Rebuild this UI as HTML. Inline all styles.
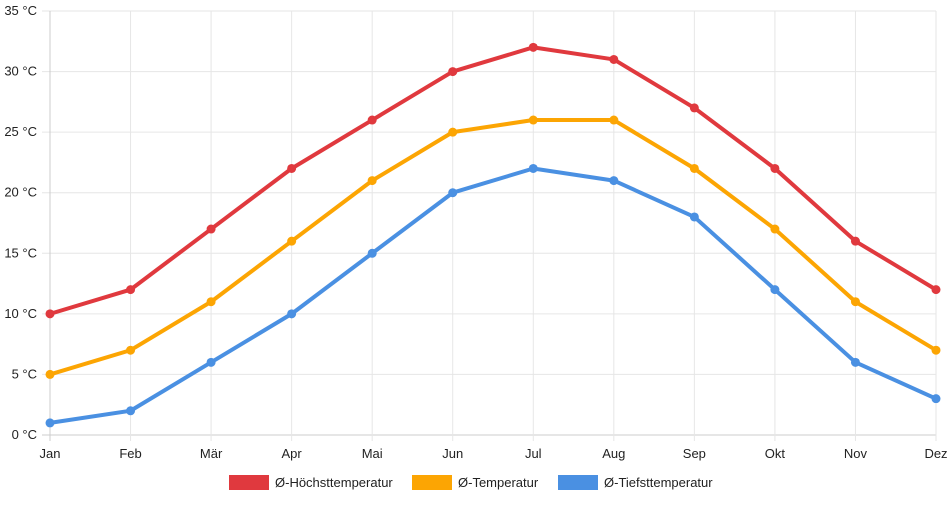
<!DOCTYPE html>
<html><head><meta charset="utf-8"><style>
body{margin:0;background:#fff;font-family:"Liberation Sans",sans-serif;}
svg text{font-family:"Liberation Sans",sans-serif;font-size:13px;fill:#222;}
</style></head><body>
<svg id="c" width="952" height="500"></svg>
<script>
const months=["Jan","Feb","Mär","Apr","Mai","Jun","Jul","Aug","Sep","Okt","Nov","Dez"];
const highTemps=[10,12,17,22,26,30,32,31,27,22,16,12];
const meanTemps=[5,7,11,16,21,25,26,26,22,17,11,7];
const lowTemps=[1,2,6,10,15,20,22,21,18,12,6,3];
const yTicks=[0,5,10,15,20,25,30,35];
const seriesNames=["Ø-Höchsttemperatur","Ø-Temperatur","Ø-Tiefsttemperatur"];
const seriesColors=["#e0393e","#fca503","#4a90e2"];

const svg=document.getElementById('c');
const NS="http://www.w3.org/2000/svg";
const x0=50,x1=936,yBase=435,yTop=11,yMax=35;
const xs=i=>x0+i*(x1-x0)/(months.length-1);
const ys=v=>yBase-v*(yBase-yTop)/yMax;
function mk(t,a){const e=document.createElementNS(NS,t);for(const k in a)e.setAttribute(k,a[k]);svg.appendChild(e);return e;}

yTicks.forEach(v=>{
  const l=mk('line',{x1:x0-8,x2:x1,y1:ys(v),y2:ys(v),stroke:v===0?'#ccc':'#e6e6e6','stroke-width':1});
  
  
  const t=mk('text',{x:37,y:ys(v)+4,'text-anchor':'end'});
  t.textContent=v+' °C';
  
  
});
months.forEach((m,i)=>{
  const l=mk('line',{x1:xs(i),x2:xs(i),y1:yTop,y2:yBase+6,stroke:i===0?'#ccc':'#e6e6e6','stroke-width':1});
  
  
  const t=mk('text',{x:xs(i),y:458,'text-anchor':'middle'});
  t.textContent=m;
  
  
});
[highTemps,meanTemps,lowTemps].forEach((d,s)=>{
  const p=mk('polyline',{points:d.map((v,i)=>xs(i)+','+ys(v)).join(' '),fill:'none',stroke:seriesColors[s],'stroke-width':4,'stroke-linejoin':'round'});
  
  
  d.forEach((v,i)=>{
    const c=mk('circle',{cx:xs(i),cy:ys(v),r:4.5,fill:seriesColors[s]});
    
    
  });
});
const legX=[229,412,558];
seriesNames.forEach((n,s)=>{
  const r=mk('rect',{x:legX[s],y:475,width:40,height:15,fill:seriesColors[s]});
  
  
  const t=mk('text',{x:legX[s]+46,y:487});
  t.textContent=n;
  
  
});
</script>
</body></html>
